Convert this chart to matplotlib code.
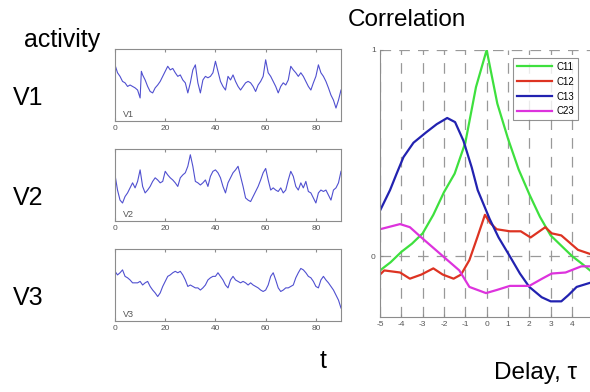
import matplotlib
matplotlib.use("Agg")
import matplotlib.pyplot as plt

plt.rcParams['font.family'] = ['Liberation Sans', 'DejaVu Sans']
plt.rcParams['axes.unicode_minus'] = False

# ---------------- activity traces ----------------
t1 = [0, 1, 2, 3, 4, 5, 6, 7, 8, 9, 10, 10.5, 11, 12, 13, 14, 15, 16, 17, 18, 19, 20,
      21, 22, 23, 24, 25, 26, 27, 28, 29, 30, 31, 32, 33, 34, 35, 36, 37, 38, 39, 40,
      41, 42, 43, 44, 45, 46, 47, 48, 49, 50, 51, 52, 53, 54, 55, 56, 57, 58, 59, 60,
      61, 62, 63, 64, 65, 66, 67, 68, 69, 70, 71, 72, 73, 74, 75, 76, 77, 78, 79, 80,
      81, 82, 83, 84, 85, 86, 87, 88, 89, 90]
v1 = [.78, .67, .62, .55, .53, .48, .50, .48, .46, .43, .32, .69, .64, .57, .48, .41, .39, .46, .50, .55, .62, .69,
      .76, .71, .73, .67, .62, .64, .57, .53, .39, .53, .71, .78, .53, .39, .57, .62, .60, .62, .67, .83,
      .69, .55, .48, .43, .62, .57, .64, .55, .48, .43, .48, .53, .55, .53, .48, .41, .50, .55, .62, .85,
      .67, .62, .55, .48, .39, .48, .53, .50, .57, .76, .71, .67, .62, .67, .62, .55, .48, .43, .53, .62,
      .78, .67, .62, .55, .46, .36, .29, .18, .29, .43]

t2 = list(range(0, 91))
v2 = [.64, .43, .29, .25, .34, .39, .46, .53, .46, .55, .71, .48, .39, .43, .48, .55, .60, .57, .53, .55, .69,
      .64, .60, .57, .53, .48, .60, .64, .67, .76, .92, .76, .55, .53, .50, .53, .57, .48, .62, .69, .71,
      .67, .60, .48, .39, .53, .60, .67, .71, .76, .62, .48, .32, .29, .27, .34, .41, .48, .57, .67, .73,
      .57, .43, .46, .43, .41, .46, .39, .43, .57, .69, .62, .48, .43, .53, .46, .55, .41, .39, .32, .25,
      .39, .43, .41, .43, .36, .29, .43, .46, .53, .69]

t3 = list(range(0, 91))
v3 = [.69, .64, .67, .71, .62, .60, .57, .53, .53, .53, .55, .50, .53, .55, .48, .43, .39, .34, .39, .48, .55,
      .62, .64, .67, .69, .67, .69, .64, .57, .48, .50, .48, .46, .46, .43, .46, .50, .57, .60, .62, .62,
      .67, .62, .57, .50, .46, .57, .62, .57, .55, .53, .55, .53, .50, .53, .50, .48, .46, .43, .41, .43,
      .50, .62, .67, .57, .46, .41, .43, .46, .46, .48, .50, .60, .67, .73, .71, .67, .62, .60, .55, .48,
      .46, .57, .62, .57, .53, .48, .43, .36, .29, .18]

trace_names = ["V1", "V2", "V3"]
t_ticks = [0, 20, 40, 60, 80]

# ---------------- correlations ----------------
lag_c11 = [-5, -4.5, -4, -3.5, -3, -2.5, -2, -1.5, -1, -0.5, 0, 0.5, 1, 1.5, 2, 2.5, 3, 3.5, 4, 4.5, 4.85]
c11 = [-0.07, -0.03, 0.02, 0.06, 0.11, 0.20, 0.31, 0.40, 0.55, 0.82, 1.0, 0.74, 0.57, 0.42, 0.30, 0.19,
       0.10, 0.05, 0.00, -0.04, -0.07]

lag_c12 = [-5, -4.8, -4.06, -3.6, -3.06, -2.5, -2.06, -1.55, -1.2, -0.81, -0.44, -0.08, 0.17, 0.47,
           1.09, 1.6, 2.06, 2.75, 3.05, 3.5, 4.28, 4.85]
c12 = [-0.09, -0.07, -0.08, -0.11, -0.09, -0.06, -0.09, -0.11, -0.09, -0.02, 0.09, 0.20, 0.16, 0.13,
       0.12, 0.12, 0.09, 0.14, 0.11, 0.10, 0.03, 0.01]

lag_c13 = [-5, -4.53, -4.22, -3.9, -3.43, -2.84, -2.34, -1.85, -1.48, -1.09, -0.7, -0.42, 0.14, 0.56,
           1.08, 1.56, 2.0, 2.58, 3.0, 3.5, 3.83, 4.22, 4.85]
c13 = [0.22, 0.32, 0.40, 0.48, 0.55, 0.60, 0.64, 0.67, 0.65, 0.56, 0.43, 0.32, 0.18, 0.09,
       0.0, -0.085, -0.15, -0.20, -0.22, -0.22, -0.19, -0.15, -0.13]

lag_c23 = [-5, -4.06, -3.6, -3.06, -2.06, -1.28, -0.81, -0.03, 0.47, 1.09, 2.0, 2.6, 3.05, 3.7, 4.44, 4.85]
c23 = [0.13, 0.155, 0.14, 0.09, 0.0, -0.07, -0.15, -0.18, -0.165, -0.145, -0.145, -0.11, -0.085, -0.08,
       -0.05, -0.05]

corr_names = ["C11", "C12", "C13", "C23"]
corr_colors = ["#3ee03e", "#dd3322", "#2222b0", "#dd33dd"]
lag_ticks = [-5, -4, -3, -2, -1, 0, 1, 2, 3, 4]

# ---------------- figure ----------------
W, H = 590, 392
fig = plt.figure(figsize=(W / 100, H / 100), dpi=100)

def fx(px):
    return px / W

def fy(py):
    return 1 - py / H

gray = "#8c8c8c"
tick_col = "#555555"

panel_tops = [49, 149, 249]
for (ts, vs, name, top) in zip([t1, t2, t3], [v1, v2, v3], trace_names, panel_tops):
    ax = fig.add_axes([fx(115), fy(top + 72), fx(341) - fx(115), 72 / H])
    ax.plot(ts, vs, color="#5050d0", lw=0.8)
    ax.set_xlim(0, 90)
    ax.set_ylim(0, 1)
    ax.set_xticks(t_ticks)
    ax.set_yticks([])
    ax.tick_params(axis='x', direction='in', length=2, top=True, labelsize=6,
                   labelcolor=tick_col, color=gray, pad=3)
    for s in ax.spines.values():
        s.set_color(gray)
        s.set_linewidth(0.8)
    ax.text(3, 0.05, name, fontsize=6.5, color="#555555", transform=ax.transData)
    fig.text(fx(28), fy(top + 49), name, fontsize=18, ha='center', va='center')

fig.text(fx(62), fy(40), "activity", fontsize=18, ha='center', va='center')
fig.text(fx(323), fy(361), "t", fontsize=18, ha='center', va='center')
fig.text(fx(407), fy(20), "Correlation", fontsize=17.5, ha='center', va='center')
fig.text(fx(536), fy(373), "Delay, \u03c4", fontsize=17.5, ha='center', va='center')

# correlation axes: x=-5 at px 380, 21.33 px per unit; y=1 at 50, y=0 at 256
x0 = 380
x1 = 380 + 10 * 21.33
axc = fig.add_axes([fx(x0), fy(317), fx(x1) - fx(x0), (317 - 50) / H])
for lag, c, name, col in zip([lag_c11, lag_c12, lag_c13, lag_c23], [c11, c12, c13, c23],
                             corr_names, corr_colors):
    axc.plot(lag, c, color=col, lw=1.6, label=name)
axc.set_xlim(-5, 5)
axc.set_ylim(-0.296, 1.0)
axc.set_xticks(lag_ticks)
axc.set_yticks([0, 1])
axc.tick_params(direction='in', length=2, labelsize=6, labelcolor=tick_col, color=gray, pad=3)
axc.grid(True, color="#999999", lw=0.9, linestyle=(0, (8.5, 6.5)))
axc.set_axisbelow(True)
axc.spines['top'].set_visible(False)
axc.spines['right'].set_visible(False)
for s in ['left', 'bottom']:
    axc.spines[s].set_color(gray)
    axc.spines[s].set_linewidth(0.8)
leg = axc.legend(loc='upper left', bbox_to_anchor=(0.623, 0.97), fontsize=7, frameon=True,
                 fancybox=False, handlelength=3.6, handletextpad=0.5, borderpad=0.4,
                 labelspacing=0.5, borderaxespad=0)
leg.get_frame().set_edgecolor("#777777")
leg.get_frame().set_linewidth(0.8)

fig.savefig("out.png", dpi=100)
